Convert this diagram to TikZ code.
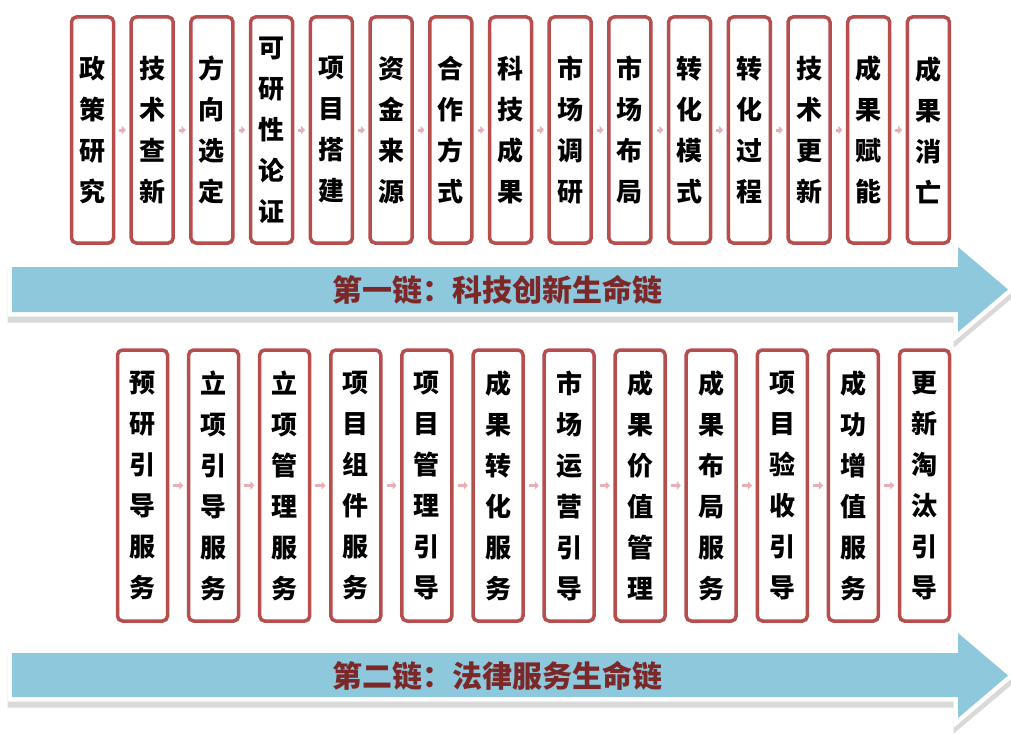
\documentclass[tikz,border=0pt]{standalone}
\usepackage{fontspec}
\setmainfont{Noto Sans CJK SC}
\usetikzlibrary{arrows.meta,shadows}
\definecolor{boxred}{RGB}{182,78,78}
\definecolor{chainblue}{RGB}{142,200,220}
\definecolor{titlered}{RGB}{125,40,40}
\definecolor{linkpink}{RGB}{232,176,182}

\begin{document}
\begin{tikzpicture}
        [x=1pt,y=-1pt,
        stage/.style={draw=boxred,line width=3.5pt,rounded corners=5pt,fill=white,
          inner sep=0,align=center,font=\fontsize{26}{41}\selectfont\bfseries,
          drop shadow={opacity=0.2,shadow xshift=1pt,shadow yshift=-2pt}},
        upper/.style={stage,minimum width=42pt,minimum height=226pt},
        lower/.style={stage,minimum width=50pt,minimum height=271pt},
        link/.style={draw=linkpink,line width=3pt,shorten <=4pt,shorten >=3.5pt,
          -{Triangle[length=4pt,width=8pt]}},
        chain/.style={fill=chainblue,preaction={draw=white,line width=9pt,line join=miter}},
        chainshadow/.style={fill=black!15,draw=black!15,line width=9pt},
        chaintitle/.style={text=titlered,font=\fontsize{30}{30}\selectfont\bfseries}]

        \useasboundingbox (0,0) rectangle (1011,733);

        % first chain
        \node[upper] (p1) at (92.5,130) {政\\策\\研\\究};
        \node[upper] (p2) at (152.2,130) {技\\术\\查\\新};
        \node[upper] (p3) at (211.9,130) {方\\向\\选\\定};
        \node[upper] (p4) at (271.6,130) {可\\研\\性\\论\\证};
        \node[upper] (p5) at (331.4,130) {项\\目\\搭\\建};
        \node[upper] (p6) at (391.1,130) {资\\金\\来\\源};
        \node[upper] (p7) at (450.8,130) {合\\作\\方\\式};
        \node[upper] (p8) at (510.5,130) {科\\技\\成\\果};
        \node[upper] (p9) at (570.2,130) {市\\场\\调\\研};
        \node[upper] (p10) at (629.9,130) {市\\场\\布\\局};
        \node[upper] (p11) at (689.6,130) {转\\化\\模\\式};
        \node[upper] (p12) at (749.3,130) {转\\化\\过\\程};
        \node[upper] (p13) at (809.0,130) {技\\术\\更\\新};
        \node[upper] (p14) at (868.7,130) {成\\果\\赋\\能};
        \node[upper] (p15) at (928.4,130) {成\\果\\消\\亡};

        \draw[link] (p1) -- (p2);
        \draw[link] (p2) -- (p3);
        \draw[link] (p3) -- (p4);
        \draw[link] (p4) -- (p5);
        \draw[link] (p5) -- (p6);
        \draw[link] (p6) -- (p7);
        \draw[link] (p7) -- (p8);
        \draw[link] (p8) -- (p9);
        \draw[link] (p9) -- (p10);
        \draw[link] (p10) -- (p11);
        \draw[link] (p11) -- (p12);
        \draw[link] (p12) -- (p13);
        \draw[link] (p13) -- (p14);
        \draw[link] (p14) -- (p15);

        \fill[chainshadow] (12,273) -- (958,273) -- (958,253) -- (1008,295.5)
          -- (958,338) -- (958,318) -- (12,318) -- cycle;
        \path[chain] (12,267) -- (958,267) -- (958,247) -- (1008,289.5)
          -- (958,332) -- (958,312) -- (12,312) -- cycle;
        \node[chaintitle] (t1) at (497,290) {第一链：科技创新生命链};

        % second chain
        \node[lower] (s1) at (142.5,485.5) {预\\研\\引\\导\\服\\务};
        \node[lower] (s2) at (213.6,485.5) {立\\项\\引\\导\\服\\务};
        \node[lower] (s3) at (284.7,485.5) {立\\项\\管\\理\\服\\务};
        \node[lower] (s4) at (355.8,485.5) {项\\目\\组\\件\\服\\务};
        \node[lower] (s5) at (426.9,485.5) {项\\目\\管\\理\\引\\导};
        \node[lower] (s6) at (498.0,485.5) {成\\果\\转\\化\\服\\务};
        \node[lower] (s7) at (569.0,485.5) {市\\场\\运\\营\\引\\导};
        \node[lower] (s8) at (640.1,485.5) {成\\果\\价\\值\\管\\理};
        \node[lower] (s9) at (711.2,485.5) {成\\果\\布\\局\\服\\务};
        \node[lower] (s10) at (782.3,485.5) {项\\目\\验\\收\\引\\导};
        \node[lower] (s11) at (853.4,485.5) {成\\功\\增\\值\\服\\务};
        \node[lower] (s12) at (924.5,485.5) {更\\新\\淘\\汰\\引\\导};

        \draw[link] (s1) -- (s2);
        \draw[link] (s2) -- (s3);
        \draw[link] (s3) -- (s4);
        \draw[link] (s4) -- (s5);
        \draw[link] (s5) -- (s6);
        \draw[link] (s6) -- (s7);
        \draw[link] (s7) -- (s8);
        \draw[link] (s8) -- (s9);
        \draw[link] (s9) -- (s10);
        \draw[link] (s10) -- (s11);
        \draw[link] (s11) -- (s12);

        \fill[chainshadow] (12,659) -- (958,659) -- (958,639) -- (1008,682)
          -- (958,724) -- (958,703) -- (12,703) -- cycle;
        \path[chain] (12,653) -- (958,653) -- (958,633) -- (1008,675.5)
          -- (958,718) -- (958,697) -- (12,697) -- cycle;
        \node[chaintitle] (t2) at (497,676) {第二链：法律服务生命链};
      \end{tikzpicture}
\end{document}
